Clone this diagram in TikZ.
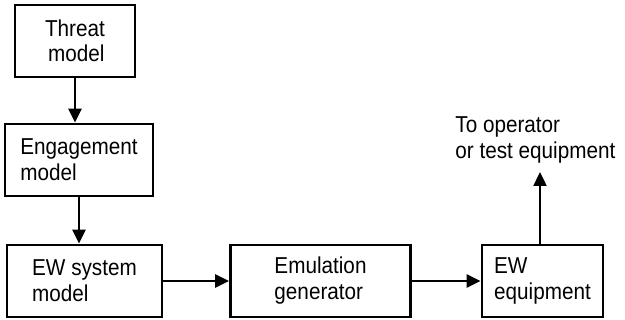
\documentclass[tikz,border=0pt]{standalone}
\usepackage{fontspec}
\setmainfont{Liberation Sans}[FakeStretch=0.9]
\usetikzlibrary{arrows.meta}

\begin{document}
\begin{tikzpicture}[x=0.5pt, y=-0.5pt, every node/.style={font=\fontsize{11.5}{13}\selectfont}, block/.style={draw, line width=1.4pt, align=left, inner sep=0pt, minimum height=36pt}, flow/.style={line width=1.2pt, -{Triangle[length=7pt, width=6.5pt]}}]
	\useasboundingbox (0,0) rectangle (625,320);
	\node[block, minimum width=60pt] (threat) at (75,41) {Threat\\[-0.5pt]\hspace*{1.5pt}model};
	\node[block, minimum width=74pt] (engage) at (79,160) {Engagement\\model};
	\node[block, minimum width=77.5pt] (ewsys) at (84.5,281) {EW system\\model};
	\node[block, minimum width=90pt] (emul) at (320.5,281) {Emulation\\generator};
	\node[block, minimum width=60.5pt] (ewequip) at (542.5,281) {EW\\equipment};
	\node[anchor=base west, align=left, inner sep=0pt] (dest) at (455,159) {To operator\\or test equipment};
	\coordinate (out) at (540,172);
	\draw[flow] (threat.south) -- (threat.south |- engage.north);
	\draw[flow] (engage.south) -- (engage.south |- ewsys.north);
	\draw[flow] (ewsys.east) -- (emul.west);
	\draw[flow] (emul.east) -- (ewequip.west);
	\draw[flow] (ewequip.north -| out) -- (out);
\end{tikzpicture}
\end{document}
